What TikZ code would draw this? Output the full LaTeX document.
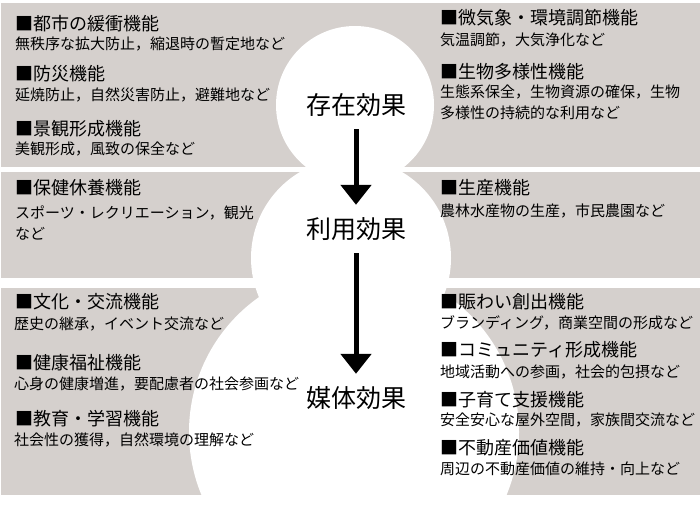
\documentclass[tikz,border=0pt]{standalone}
\usepackage{fontspec}
\setmainfont{Noto Sans CJK JP}
\usetikzlibrary{arrows.meta}
\definecolor{bandgray}{RGB}{213,208,205}

\begin{document}
\begin{tikzpicture}[x=1pt, y=-1pt,
    band/.style={fill=bandgray},
    blob/.style={fill=white},
    hdr/.style={anchor=west, inner sep=0pt, font=\fontsize{18}{20}\selectfont},
    desc/.style={anchor=west, inner sep=0pt, align=left,
      font=\fontsize{15}{21}\selectfont},
    effect/.style={inner sep=0pt, minimum height=48pt,
      font=\fontsize{25}{27}\selectfont},
    flow/.style={-{Triangle[width=30pt, length=20pt]}, line width=5pt}
  ]
  \clip (0,0) rectangle (700,507);
  % ---------------- gray bands ----------------
  \fill[band] (1,3) rectangle (700,167);
  \fill[band] (1,172) rectangle (700,278);
  \fill[band] (1,288) rectangle (700,495);
  % ---------------- white snowman ----------------
  \fill[blob] (355,105) circle[radius=79];
  \fill[blob] (351,258) circle[radius=100];
  \fill[blob] (354,432) circle[radius=165];
  % ---------------- effects ----------------
  \node[effect] (E1) at (356,105) {存在効果};
  \node[effect] (E2) at (356,229) {利用効果};
  \node[effect] (E3) at (356,398) {媒体効果};
  \draw[flow] (E1) -- (E2);
  \draw[flow] (E2) -- (E3);
  % ---------------- top band ----------------
  \node[hdr] (TL1) at (15,24) {■都市の緩衝機能};
  \node[desc] (TL1d) at (15,44) {無秩序な拡大防止，縮退時の暫定地など};
  \node[hdr] (TL2) at (15,74) {■防災機能};
  \node[desc] (TL2d) at (15,95) {延焼防止，自然災害防止，避難地など};
  \node[hdr] (TL3) at (15,129) {■景観形成機能};
  \node[desc] (TL3d) at (15,149) {美観形成，風致の保全など};
  \node[hdr] (TR1) at (440,18) {■微気象・環境調節機能};
  \node[desc] (TR1d) at (440,40) {気温調節，大気浄化など};
  \node[hdr] (TR2) at (440,72) {■生物多様性機能};
  \node[desc] (TR2d) at (440,102) {生態系保全，生物資源の確保，生物\\多様性の持続的な利用など};
  % ---------------- middle band ----------------
  \node[hdr] (ML1) at (15,188) {■保健休養機能};
  \node[desc] (ML1d) at (15,223) {スポーツ・レクリエーション，観光\\など};
  \node[hdr] (MR1) at (440,188) {■生産機能};
  \node[desc] (MR1d) at (440,211) {農林水産物の生産，市民農園など};
  % ---------------- bottom band ----------------
  \node[hdr] (BL1) at (15,302) {■文化・交流機能};
  \node[desc] (BL1d) at (14,324) {歴史の継承，イベント交流など};
  \node[hdr] (BL2) at (15,363) {■健康福祉機能};
  \node[desc] (BL2d) at (14,384) {心身の健康増進，要配慮者の社会参画など};
  \node[hdr] (BL3) at (15,419) {■教育・学習機能};
  \node[desc] (BL3d) at (14,440) {社会性の獲得，自然環境の理解など};
  \node[hdr] (BR1) at (440,302) {■賑わい創出機能};
  \node[desc] (BR1d) at (440,323) {ブランディング，商業空間の形成など};
  \node[hdr] (BR2) at (440,350) {■コミュニティ形成機能};
  \node[desc] (BR2d) at (440,372) {地域活動への参画，社会的包摂など};
  \node[hdr] (BR3) at (440,400) {■子育て支援機能};
  \node[desc] (BR3d) at (440,420) {安全安心な屋外空間，家族間交流など};
  \node[hdr] (BR4) at (440,448) {■不動産価値機能};
  \node[desc] (BR4d) at (440,469) {周辺の不動産価値の維持・向上など};
\end{tikzpicture}
\end{document}
